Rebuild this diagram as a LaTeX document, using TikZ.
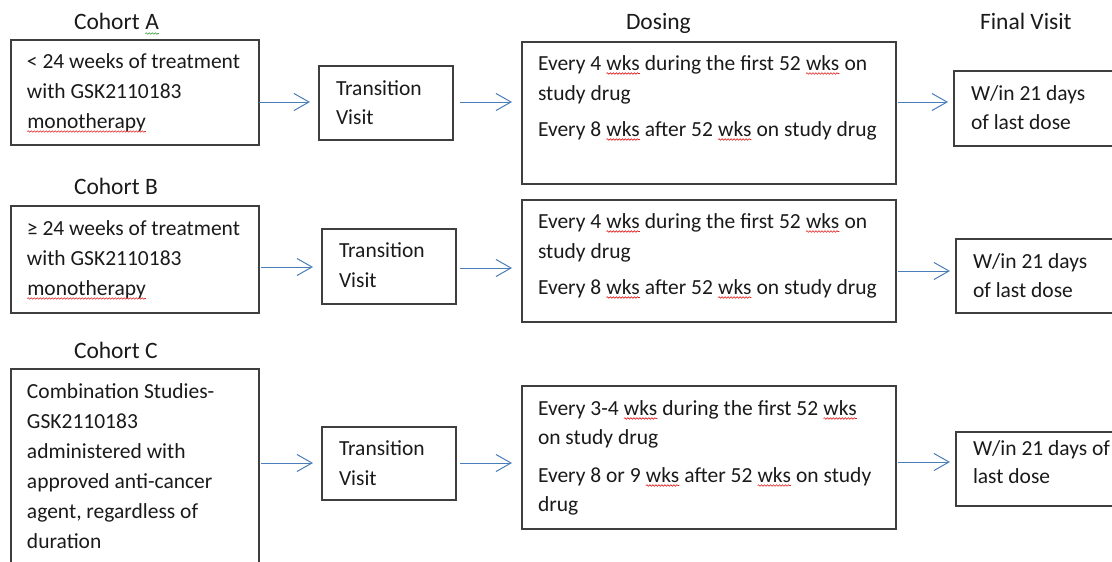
\documentclass[tikz,border=0pt]{standalone}
\usepackage{fontspec}
\setmainfont{Carlito}
\usetikzlibrary{arrows.meta,decorations.pathmorphing}
\definecolor{bordergray}{HTML}{3F3F3F}
\definecolor{arrowblue}{HTML}{4A7EBB}
\definecolor{sqred}{HTML}{E02020}
\definecolor{sqgreen}{HTML}{3A9A3A}
\definecolor{txtcol}{HTML}{1A1A1A}
\newcommand\squig[2][sqred]{\tikz[baseline=(sqw.base)]{\node[inner sep=0pt,outer sep=0pt,anchor=base](sqw){#2};\draw[#1,line width=0.6pt,decorate,decoration={snake,amplitude=0.8pt,segment length=3pt}]([yshift=-3.5pt]sqw.base west)--([yshift=-3.5pt]sqw.base east);}}
\tikzset{
  bx/.style={draw=bordergray,line width=1.3pt,inner sep=0pt,outer sep=0pt,anchor=north west,fill=none},
  txt/.style={inner sep=0pt,outer sep=0pt,anchor=base west,text=txtcol,font=\fontsize{21.5}{30}\selectfont},
  hd/.style={inner sep=0pt,outer sep=0pt,anchor=base west,text=txtcol,font=\fontsize{23.5}{28}\selectfont},
  arr/.style={draw=arrowblue,line width=1pt,-{Straight Barb[length=15pt,width=17pt,line width=1pt]}}
}
\begin{document}
\begin{tikzpicture}[x=1pt,y=-1pt]
\clip (0,0) rectangle (1112,562);
\useasboundingbox (0,0) rectangle (1112,562);
% headings
\node[hd] (hA) at (74,30) {Cohort \squig[sqgreen]{A}};
\node[hd] (hB) at (74,194) {Cohort B};
\node[hd] (hC) at (74,358) {Cohort C};
\node[hd] (hD) at (626,30) {Dosing};
\node[hd] (hF) at (980,29) {Final Visit};
% row A
\node[bx,minimum width=248pt,minimum height=105pt] (A1) at (11,40) {};
\node[bx,minimum width=134pt,minimum height=74pt] (TA) at (319,66) {};
\node[bx,minimum width=374pt,minimum height=142pt] (DA) at (522,42) {};
\node[bx,minimum width=170pt,minimum height=75pt] (FA) at (954,71) {};
\node[txt] (A1a) at (27,68) {< 24 weeks of treatment};
\node[txt] (A1b) at (27,98) {with GSK2110183};
\node[txt] (A1c) at (27,128) {\squig{monotherapy}};
\node[txt] (TAa) at (336,95) {Transition};
\node[txt] (TAb) at (336,124) {Visit};
\node[txt] (DAa) at (538,70) {Every 4 \squig{wks} during the first 52 \squig{wks} on};
\node[txt] (DAb) at (538,100) {study drug};
\node[txt] (DAc) at (538,136) {Every 8 \squig{wks} after 52 \squig{wks} on study drug};
\node[txt] (FAa) at (971,100) {W/in 21 days};
\node[txt] (FAb) at (971,129) {of last dose};
% row B
\node[bx,minimum width=248pt,minimum height=107pt] (B1) at (11,206) {};
\node[bx,minimum width=134pt,minimum height=75pt] (TB) at (322,229) {};
\node[bx,minimum width=374pt,minimum height=122pt] (DB) at (522,200) {};
\node[bx,minimum width=170pt,minimum height=74pt] (FB) at (956,239) {};
\node[txt] (B1a) at (27,235) {≥ 24 weeks of treatment};
\node[txt] (B1b) at (27,265) {with GSK2110183};
\node[txt] (B1c) at (27,295) {\squig{monotherapy}};
\node[txt] (TBa) at (339,257) {Transition};
\node[txt] (TBb) at (339,287) {Visit};
\node[txt] (DBa) at (538,228) {Every 4 \squig{wks} during the first 52 \squig{wks} on};
\node[txt] (DBb) at (538,258) {study drug};
\node[txt] (DBc) at (538,294) {Every 8 \squig{wks} after 52 \squig{wks} on study drug};
\node[txt] (FBa) at (973,268) {W/in 21 days};
\node[txt] (FBb) at (973,297) {of last dose};
% row C
\node[bx,minimum width=248pt,minimum height=210pt] (C1) at (11,369) {};
\node[bx,minimum width=134pt,minimum height=73pt] (TC) at (322,427) {};
\node[bx,minimum width=374pt,minimum height=143pt] (DC) at (522,386) {};
\node[bx,minimum width=170pt,minimum height=74pt] (FC) at (956,432) {};
\node[txt] (C1a) at (27,398) {Combination Studies-};
\node[txt] (C1b) at (27,428) {GSK2110183};
\node[txt] (C1c) at (27,458) {administered with};
\node[txt] (C1d) at (27,488) {approved anti-cancer};
\node[txt] (C1e) at (27,518) {agent, regardless of};
\node[txt] (C1f) at (27,548) {duration};
\node[txt] (TCa) at (339,455) {Transition};
\node[txt] (TCb) at (339,485) {Visit};
\node[txt] (DCa) at (538,415) {Every 3-4 \squig{wks} during the first 52 \squig{wks}};
\node[txt] (DCb) at (538,444) {on study drug};
\node[txt] (DCc) at (538,482) {Every 8 or 9 \squig{wks} after 52 \squig{wks} on study};
\node[txt] (DCd) at (538,511) {drug};
\node[txt] (FCa) at (973,455) {W/in 21 days of};
\node[txt] (FCb) at (973,483) {last dose};
% arrows row A
\draw[arr,shorten >=9pt] (A1.east |- 0,102) -- (TA.west |- 0,102);
\draw[arr,shorten <=7pt,shorten >=10pt] (TA.east |- 0,102) -- (DA.west |- 0,102);
\draw[arr,shorten <=2pt,shorten >=6pt] (DA.east |- 0,102) -- (FA.west |- 0,102);
% arrows row B
\draw[arr,shorten <=2pt,shorten >=9pt] (B1.east |- 0,267) -- (TB.west |- 0,267);
\draw[arr,shorten <=4pt,shorten >=10pt] (TB.east |- 0,268) -- (DB.west |- 0,268);
\draw[arr,shorten <=2pt,shorten >=6pt] (DB.east |- 0,271) -- (FB.west |- 0,271);
% arrows row C
\draw[arr,shorten <=2pt,shorten >=9pt] (C1.east |- 0,463) -- (TC.west |- 0,463);
\draw[arr,shorten <=4pt,shorten >=10pt] (TC.east |- 0,463) -- (DC.west |- 0,463);
\draw[arr,shorten <=2pt,shorten >=6pt] (DC.east |- 0,462) -- (FC.west |- 0,462);
\end{tikzpicture}
\end{document}
